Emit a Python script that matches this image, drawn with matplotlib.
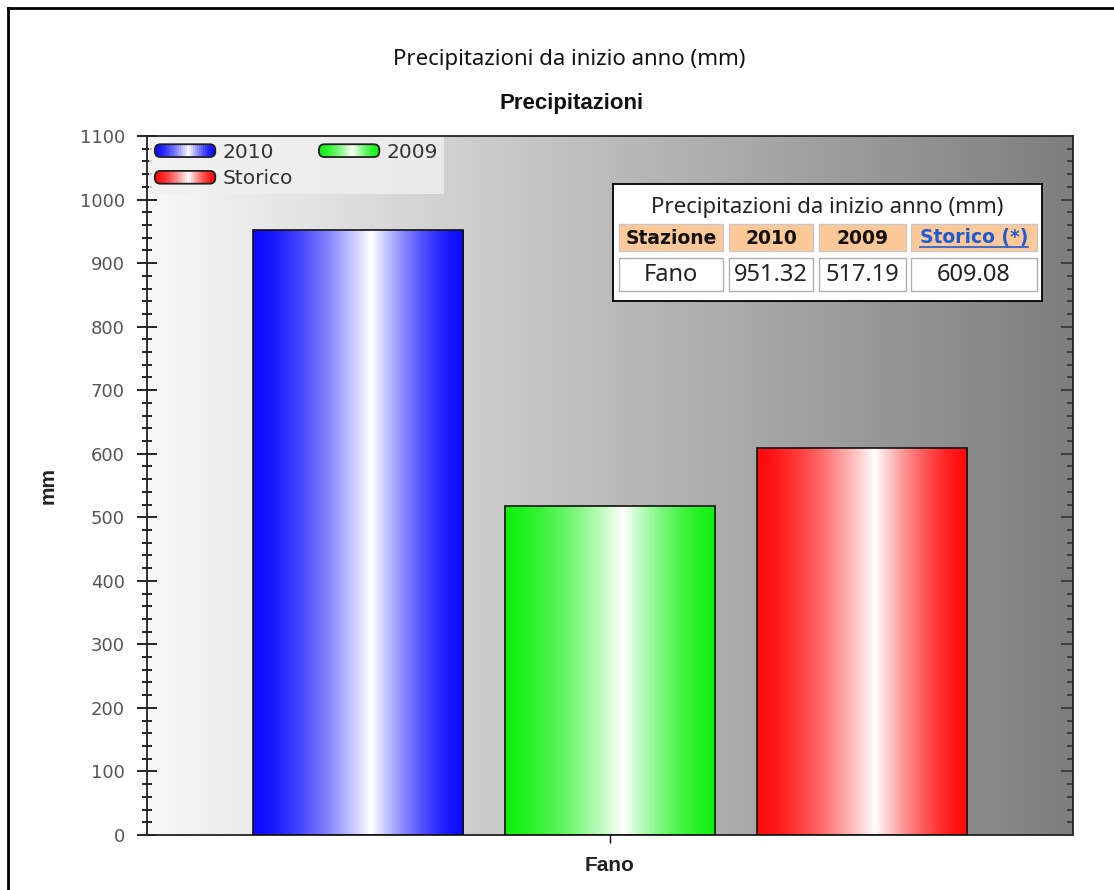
import numpy as np
import matplotlib
matplotlib.use("Agg")
import matplotlib.pyplot as plt
from matplotlib.colors import to_rgb, LinearSegmentedColormap
from matplotlib.patches import Rectangle, FancyBboxPatch, Patch
from matplotlib.legend_handler import HandlerBase
from matplotlib.lines import Line2D
from matplotlib.ticker import MultipleLocator

plt.rcParams['font.family'] = ['Liberation Sans', 'DejaVu Sans']

# data
station = 'Fano'
series = ['2010', '2009', 'Storico']
values = [951.32, 517.19, 609.08]
colors = ['#0a0aff', '#12f012', '#ff0a0a']
table_head = ['Stazione', '2010', '2009', 'Storico (*)']
chart_title = 'Precipitazioni da inizio anno (mm)'
sub_title = 'Precipitazioni'


def shade(base, t):
    # white highlight a bit right of centre
    t = np.asarray(t, dtype=float)
    c = 0.56
    w = np.where(t < c, 1 - (c - t) / c, 1 - (t - c) / (1 - c))
    w = np.clip(w, 0, 1) ** 1.5
    b = np.array(to_rgb(base))
    return b[None, :] * (1 - w[:, None]) + w[:, None]


class GradHandler(HandlerBase):
    def create_artists(self, legend, orig_handle, xdescent, ydescent,
                       width, height, fontsize, trans):
        base = orig_handle.get_facecolor()
        border = FancyBboxPatch((-xdescent, -ydescent), width, height,
                                boxstyle='round,pad=0,rounding_size=4',
                                fc='none', ec='#202020', lw=1.3, transform=trans)
        n = 30
        cols = shade(base, (np.arange(n) + 0.5) / n)
        arts = []
        for k in range(n):
            r = Rectangle((-xdescent + width * k / n, -ydescent), width / n + 0.4, height,
                          fc=cols[k], ec='none', transform=trans)
            r.set_clip_path(border)
            arts.append(r)
        arts.append(border)
        return arts


W, H = 1114, 890
fig = plt.figure(figsize=(W / 100, H / 100), dpi=100)

# outer frame (top and left only visible)
fig.add_artist(Line2D([8 / W, 1], [1 - 8 / H, 1 - 8 / H], transform=fig.transFigure,
                      color='black', lw=2))
fig.add_artist(Line2D([8 / W, 8 / W], [0, 1 - 8 / H], transform=fig.transFigure,
                      color='black', lw=2))

tfont = ['Noto Sans', 'DejaVu Sans']
fig.text(569 / W, 1 - 60 / H, chart_title, ha='center', va='center',
         fontsize=16, family=tfont, color='#111111')
fig.text(572 / W, 1 - 104 / H, sub_title, ha='center', va='center',
         fontsize=16, fontweight='bold', color='#111111')

ax = fig.add_axes([147 / W, 55 / H, 926 / W, 699 / H])
ymax = 1100

# background gradient
bg = LinearSegmentedColormap.from_list('bg', ['#f8f8f8', '#7e7e7e'])
ax.imshow(np.linspace(0, 1, 256)[None, :], cmap=bg, aspect='auto',
          extent=[-0.5, 0.5, 0, ymax], zorder=0, interpolation='bilinear')

step = 0.2721
bw = 0.2268
xs = [(i - 1) * step for i in range(len(values))]
bars = ax.bar(xs, values, width=bw, facecolor='none', edgecolor='#101010',
              lw=1.2, zorder=3)
for bar, col in zip(bars, colors):
    x0 = bar.get_x()
    h = bar.get_height()
    img = shade(col, np.linspace(0, 1, 200))[None, :, :]
    im = ax.imshow(img, aspect='auto', extent=[x0, x0 + bar.get_width(), 0, h],
                   zorder=2, interpolation='bilinear')
    im.set_clip_path(bar)

ax.set_xlim(-0.5, 0.5)
ax.set_ylim(0, ymax)
ax.set_xticks([0])
ax.set_xticklabels([station], fontsize=15, fontweight='bold', color='#222222')
ax.yaxis.set_major_locator(MultipleLocator(100))
ax.yaxis.set_minor_locator(MultipleLocator(20))
ax.tick_params(axis='y', which='major', direction='inout', length=14, width=1.2,
               labelsize=13, labelcolor='#555555', pad=9)
for lab in ax.get_yticklabels():
    lab.set_family('DejaVu Sans')
ax.tick_params(axis='y', which='minor', direction='inout', length=6.5, width=1.2)
ax.tick_params(axis='x', direction='out', length=6, width=1, pad=9)
ax.set_ylabel('mm', fontsize=15, fontweight='bold', color='#222222')
ax.yaxis.set_label_coords(-0.097, 0.5)
for s in ax.spines.values():
    s.set_color('#222222')
    s.set_linewidth(1.3)

ax2 = ax.twinx()
ax2.set_ylim(0, ymax)
ax2.yaxis.set_major_locator(MultipleLocator(100))
ax2.yaxis.set_minor_locator(MultipleLocator(20))
ax2.tick_params(axis='y', which='major', direction='in', length=9, width=1.2,
                labelright=False, color='#333333')
ax2.tick_params(axis='y', which='minor', direction='in', length=4.5, width=1.2,
                color='#333333')
for s in ax2.spines.values():
    s.set_visible(False)

# legend fills by column: put 2010 and 2009 on the first row
order = [0, 2, 1]
handles = [Patch(facecolor=colors[i]) for i in order]
labels = [series[i] for i in order]
leg = ax.legend(handles, labels, handler_map={Patch: GradHandler()}, ncol=2,
                loc='upper left', bbox_to_anchor=(0.002, 0.999), frameon=True,
                prop={'family': 'DejaVu Sans', 'size': 14.5},
                handlelength=3.0, handleheight=0.6,
                columnspacing=1.3, labelspacing=0.38, handletextpad=0.35,
                borderpad=0.3, borderaxespad=0)
leg.get_frame().set_facecolor('#f0f0f0')
leg.get_frame().set_edgecolor('none')
leg.get_frame().set_boxstyle('square', pad=0)
for t in leg.get_texts():
    t.set_color('#333333')
leg.set_zorder(5)

# data table box
tx0, ty0, tw, th = 613, 184, 429, 117
tab = fig.add_axes([tx0 / W, 1 - (ty0 + th) / H, tw / W, th / H])
tab.set_xlim(0, tw)
tab.set_ylim(th, 0)
tab.set_xticks([])
tab.set_yticks([])
tab.set_facecolor('white')
for s in tab.spines.values():
    s.set_color('black')
    s.set_linewidth(1.3)
tab.text(tw / 2, 24, chart_title, ha='center', va='center', fontsize=16,
         family=tfont, color='#222222')
cells = [(6, 110), (116, 200), (206, 293), (298, 424)]
row_vals = [station] + ['%.2f' % v for v in values]
link_txt = None
for j, (a, b) in enumerate(cells):
    tab.add_patch(Rectangle((a, 40), b - a, 27, fc='#fcc898', ec='#c8c8c8', lw=1))
    tab.add_patch(Rectangle((a, 74), b - a, 33, fc='white', ec='#b0b0b0', lw=1))
    if j == len(cells) - 1:
        link_txt = tab.text((a + b) / 2, 54, table_head[j], ha='center', va='center',
                            fontsize=13.5, fontweight='bold', family='DejaVu Sans',
                            color='#1a5cd6')
    else:
        tab.text((a + b) / 2, 54, table_head[j], ha='center', va='center',
                 fontsize=13.5, fontweight='bold', family='DejaVu Sans', color='#111111')
    tab.text((a + b) / 2, 91, row_vals[j], ha='center', va='center', fontsize=17,
             family=tfont, color='#222222')

# underline the link header
fig.canvas.draw()
bb = link_txt.get_window_extent()
inv = tab.transData.inverted()
(ux0, uy), (ux1, _) = inv.transform([(bb.x0, bb.y0 + 1), (bb.x1, bb.y0 + 1)])
tab.plot([ux0, ux1], [uy, uy], color='#1a5cd6', lw=1.2)
tab.set_xlim(0, tw)
tab.set_ylim(th, 0)

fig.savefig('out.png', dpi=100)
